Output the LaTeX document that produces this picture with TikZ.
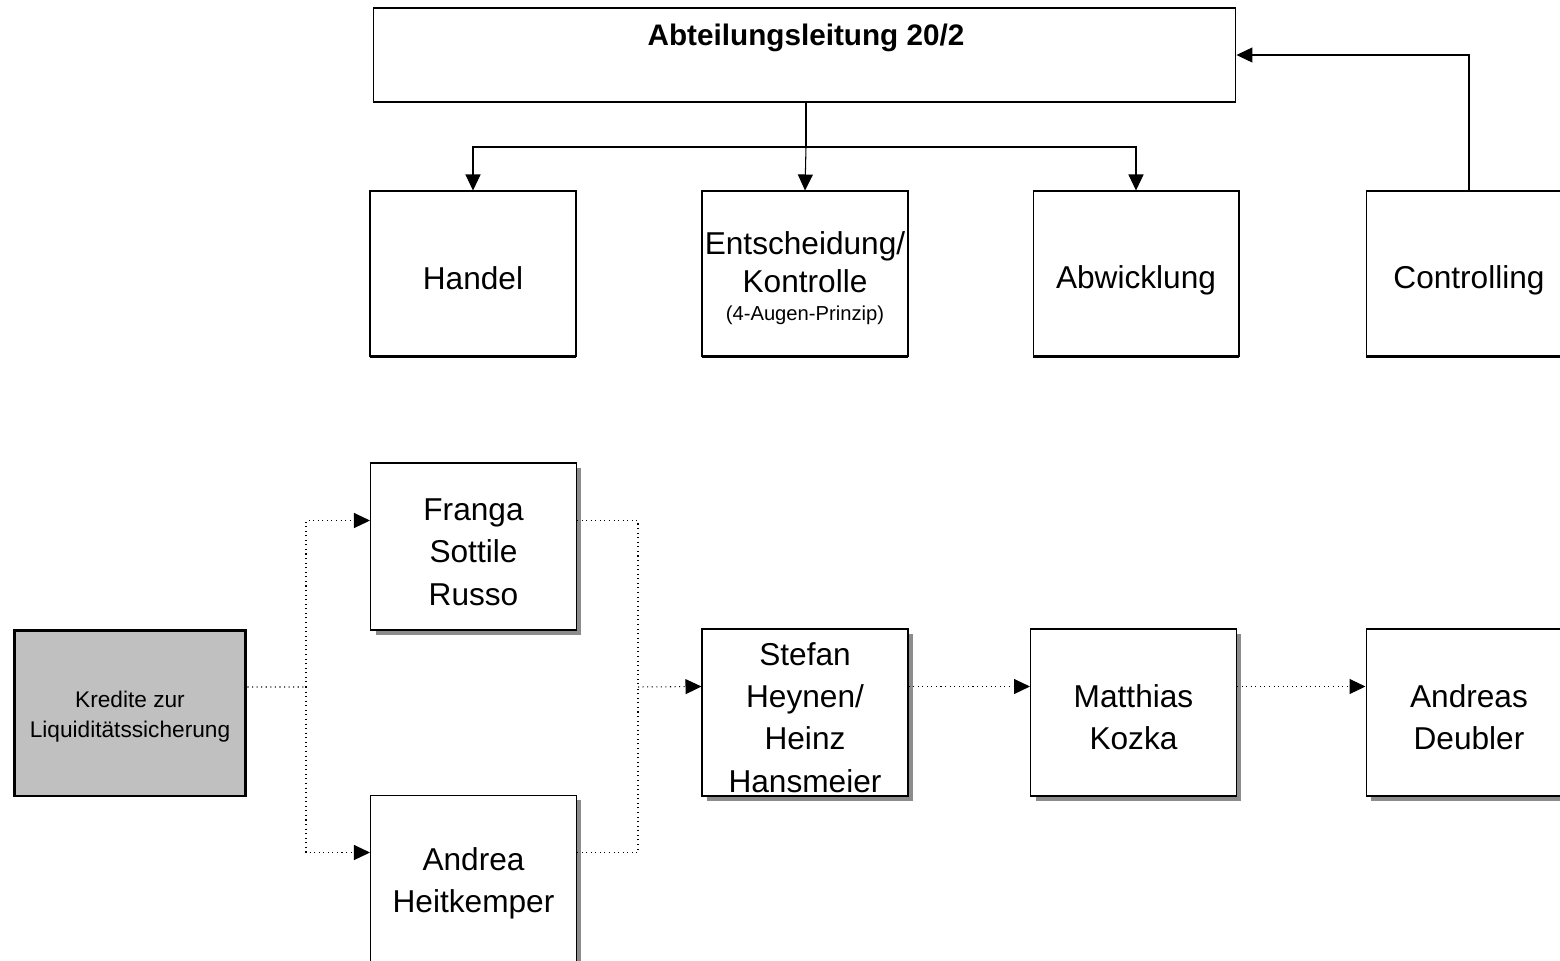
\documentclass[tikz,border=0pt]{standalone}
\usepackage{fontspec}
\setmainfont{Liberation Sans}
\usetikzlibrary{arrows.meta,shadows}
\definecolor{srcgray}{HTML}{C0C0C0}
\newcommand{\headroom}[1]{\rule{0pt}{#1}}

\begin{document}
\begin{tikzpicture}[
    x=0.02cm, y=-0.02cm,
    unit/.style={rectangle, draw=black, line width=0.6pt, fill=white,
        minimum width=4.12cm, minimum height=3.3cm, align=center, inner sep=0pt,
        font=\fontsize{18}{24}\selectfont,
        drop shadow={shadow xshift=0cm, shadow yshift=-0.04cm, fill=black, opacity=1}},
    person/.style={rectangle, draw=black, line width=0.6pt, fill=white,
        minimum width=4.12cm, minimum height=3.34cm, align=center, inner sep=0pt,
        font=\fontsize{18}{24}\selectfont,
        drop shadow={shadow xshift=0.1cm, shadow yshift=-0.1cm, fill=black!45, opacity=1}},
    source/.style={rectangle, draw=black, line width=1.7pt, fill=srcgray,
        minimum width=4.64cm, minimum height=3.32cm, align=center, inner sep=0pt,
        font=\fontsize{12.9}{17}\selectfont},
    arrow/.style={-{Triangle[length=0.32cm, width=0.3cm]}, line width=0.6pt},
    link/.style={dotted, line width=0.6pt, draw=black}
]
\useasboundingbox (0,0) rectangle (1560,961);

% management and units
\node[rectangle, draw=black, line width=0.6pt, minimum width=17.26cm, minimum height=1.88cm] (lead) at (804.5,55) {};
\node[font=\fontsize{16.9}{20}\selectfont\bfseries] (leadtitle) at (806,38) {Abteilungsleitung 20/2};

\node[unit] (trade) at (473,273.5) {\headroom{18.8pt}Handel};
\node[unit, font=\fontsize{18}{21.6}\selectfont] (check) at (805,273.5)
    {\headroom{18.8pt}Entscheidung/\\Kontrolle\\[-5.7pt]{\fontsize{11.5}{14}\selectfont (4-Augen-Prinzip)}};
\node[unit] (settle) at (1136,273.5) {\headroom{20.5pt}Abwicklung};
\node[unit] (ctrl) at (1469,273.5) {\headroom{20.5pt}Controlling};

\coordinate (branch) at (806,147);
\draw[line width=0.6pt] (lead.south -| branch) -- (branch);
\draw[arrow] (branch) -| (trade.north);
\draw[arrow] (branch) -- (check.north);
\draw[arrow] (branch) -| (settle.north);
\draw[arrow] (ctrl.north) |- (lead.east);

% process chain
\node[source] (credit) at (130,713) {\headroom{13.5pt}Kredite zur\\Liquiditätssicherung};
\node[person] (franga) at (473.5,546.5) {\headroom{18.8pt}Franga\\Sottile\\Russo};
\node[person] (andrea) at (473.5,878.5) {\headroom{18.8pt}Andrea\\Heitkemper};
\node[person] (stefan) at (805,712.5) {\headroom{18.8pt}Stefan\\Heynen/\\Heinz\\Hansmeier};
\node[person] (kozka) at (1133.5,712.5) {\headroom{18.8pt}Matthias\\Kozka};
\node[person] (deubler) at (1469,712.5) {\headroom{18.8pt}Andreas\\Deubler};

\coordinate (forkin) at (306,687);
\coordinate (forkout) at (638,687);
\draw[link] ([yshift=0.52cm]credit.east) -- (forkin);
\draw[link, arrow] (forkin) |- ([yshift=0.52cm]franga.west);
\draw[link, arrow] (forkin) |- ([yshift=0.52cm]andrea.west);
\draw[link] ([yshift=0.52cm]franga.east) -| (forkout);
\draw[link] ([yshift=0.52cm]andrea.east) -| (forkout);
\draw[link, arrow] (forkout) -- ([yshift=0.52cm]stefan.west);
\draw[link, arrow] ([yshift=0.52cm]stefan.east) -- ([yshift=0.52cm]kozka.west);
\draw[link, arrow] ([yshift=0.52cm]kozka.east) -- ([yshift=0.52cm]deubler.west);
\end{tikzpicture}
\end{document}
